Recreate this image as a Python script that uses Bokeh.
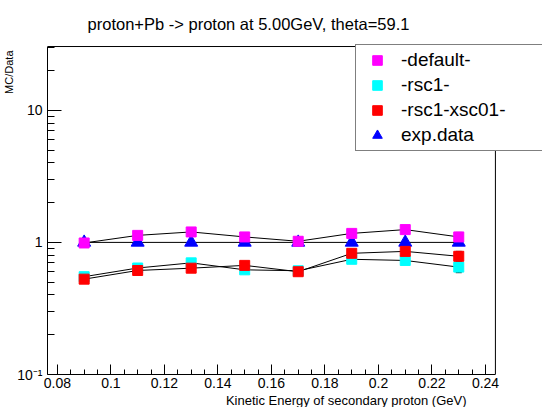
import math
from bokeh.plotting import figure
from bokeh.models import (Range1d, FixedTicker, Label, Legend, LegendItem,
                          ColumnDataSource, Whisker, TeeHead, Title)
from bokeh.embed import file_html
from bokeh.resources import INLINE

# ---- data ----
energy = [0.09, 0.11, 0.13, 0.15, 0.17, 0.19, 0.21, 0.23]
default_vals = [0.99, 1.13, 1.20, 1.10, 1.02, 1.17, 1.25, 1.10]
default_err = [0.03, 0.03, 0.03, 0.03, 0.03, 0.03, 0.03, 0.09]
rsc1_vals = [0.55, 0.64, 0.70, 0.62, 0.61, 0.745, 0.73, 0.65]
rsc1_err = [0.02, 0.02, 0.02, 0.02, 0.02, 0.02, 0.02, 0.06]
rsc1_xsc01_vals = [0.527, 0.613, 0.638, 0.67, 0.60, 0.827, 0.855, 0.785]
rsc1_xsc01_err = [0.02, 0.02, 0.02, 0.02, 0.02, 0.02, 0.02, 0.07]
expdata_vals = [1.0, 1.0, 1.0, 1.0, 1.0, 1.0, 1.0, 1.0]

xtick_vals = [0.08, 0.10, 0.12, 0.14, 0.16, 0.18, 0.20, 0.22, 0.24]
xtick_labels = ["0.08", "0.1", "0.12", "0.14", "0.16", "0.18", "0.2", "0.22", "0.24"]
xminor = [0.08 + 0.005 * i for i in range(33)]
ytick_vals = [0.1, 1, 10]
ytick_labels = ["10\u207b\u00b9", "1", "10"]
yminor = [0.2, 0.3, 0.4, 0.5, 0.6, 0.7, 0.8, 0.9, 2, 3, 4, 5, 6, 7, 8, 9, 20, 30]

# axis box (drawn region) and extended view
x_lo, x_hi = 0.0763, 0.2437
y_lo, y_hi = 0.1, 30.4
view_x_hi = 0.2613
view_y_hi = 67.8

title_text = "proton+Pb -> proton at 5.00GeV, theta=59.1"
xlabel_text = "Kinetic Energy of secondary proton (GeV)"
ylabel_text = "MC/Data"

FONT = "Liberation Sans"

p = figure(width=542, height=407, y_axis_type="log",
           x_range=Range1d(x_lo, view_x_hi), y_range=Range1d(y_lo, view_y_hi),
           output_backend="svg", toolbar_location=None,
           min_border_left=47, min_border_right=0,
           min_border_top=0, min_border_bottom=30)
p.grid.visible = False
p.outline_line_color = None
p.background_fill_color = "white"
p.border_fill_color = "white"

# axes
p.xaxis.ticker = FixedTicker(ticks=xtick_vals, minor_ticks=xminor)
p.xaxis.major_label_overrides = {v: s for v, s in zip(xtick_vals, xtick_labels)}
p.yaxis.ticker = FixedTicker(ticks=ytick_vals, minor_ticks=yminor)
p.yaxis.major_label_overrides = {v: s for v, s in zip(ytick_vals, ytick_labels)}
p.xaxis.bounds = (x_lo, x_hi)
p.yaxis.bounds = (y_lo, y_hi)
for ax in (p.xaxis, p.yaxis):
    ax.major_tick_out = 0
    ax.minor_tick_out = 0
    ax.axis_line_color = "black"
    ax.major_tick_line_color = "black"
    ax.minor_tick_line_color = "black"
    ax.major_label_text_font = FONT
    ax.major_label_text_font_size = "14px"
    ax.major_label_text_color = "black"
p.xaxis.major_label_standoff = 3
p.yaxis.major_label_standoff = 5
p.xaxis.major_tick_in = 10
p.xaxis.minor_tick_in = 5
p.yaxis.major_tick_in = 14
p.yaxis.minor_tick_in = 7

# top and right sides of the axis box
p.segment(x0=[x_lo, x_hi], y0=[y_hi, y_lo], x1=[x_hi, x_hi], y1=[y_hi, y_hi],
          line_color="black", line_width=1)

# error bars
for vals, errs in ((default_vals, default_err), (rsc1_vals, rsc1_err),
                   (rsc1_xsc01_vals, rsc1_xsc01_err)):
    src = ColumnDataSource(dict(x=energy,
                                lo=[v - e for v, e in zip(vals, errs)],
                                hi=[v + e for v, e in zip(vals, errs)]))
    w = Whisker(base="x", lower="lo", upper="hi", source=src,
                line_color="black", line_width=1,
                lower_head=TeeHead(size=6, line_color="black"),
                upper_head=TeeHead(size=6, line_color="black"))
    p.add_layout(w)

# series
p.line(energy, expdata_vals, line_color="black", line_width=1)
r_exp = p.scatter(energy, expdata_vals, marker="triangle", size=13,
                  fill_color="#0000ff", line_color="#0000ff")
p.line(energy, default_vals, line_color="black", line_width=1)
r_def = p.scatter(energy, default_vals, marker="square", size=10,
                  fill_color="#ff00ff", line_color="#ff00ff")
p.line(energy, rsc1_vals, line_color="black", line_width=1)
r_rsc = p.scatter(energy, rsc1_vals, marker="square", size=10,
                  fill_color="#00ffff", line_color="#00ffff")
p.line(energy, rsc1_xsc01_vals, line_color="black", line_width=1)
r_xsc = p.scatter(energy, rsc1_xsc01_vals, marker="square", size=10,
                  fill_color="#ff0000", line_color="#ff0000")

legend = Legend(items=[LegendItem(label="-default-", renderers=[r_def]),
                       LegendItem(label="-rsc1-", renderers=[r_rsc]),
                       LegendItem(label="-rsc1-xsc01-", renderers=[r_xsc]),
                       LegendItem(label="exp.data", renderers=[r_exp])],
                location=(308, 223))
legend.border_line_color = "black"
legend.border_line_width = 1
legend.background_fill_color = "white"
legend.background_fill_alpha = 1
legend.padding = 3
legend.margin = 0
legend.spacing = 1
legend.glyph_width = 36
legend.glyph_height = 24
legend.label_height = 24
legend.label_width = 170
legend.label_standoff = 6
legend.label_text_font = FONT
legend.label_text_font_size = "19px"
legend.label_text_color = "black"
p.add_layout(legend, "center")

# plot title inside the (extended) frame
p.add_layout(Label(x=201, y=351, x_units="screen", y_units="screen",
                   text=title_text, text_align="center",
                   text_baseline="alphabetic", text_font=FONT,
                   text_font_size="16.5px", text_color="black"))

# axis titles
xt = Title(text=xlabel_text, align="right", offset=76, standoff=0,
           text_font=FONT, text_font_size="13px", text_font_style="normal",
           text_color="black")
p.add_layout(xt, "below")
yt = Title(text=ylabel_text, align="right", offset=50, standoff=0,
           text_font=FONT, text_font_size="11px", text_font_style="normal",
           text_color="black")
p.add_layout(yt, "left")

open("out.html", "w").write(file_html(p, INLINE))
